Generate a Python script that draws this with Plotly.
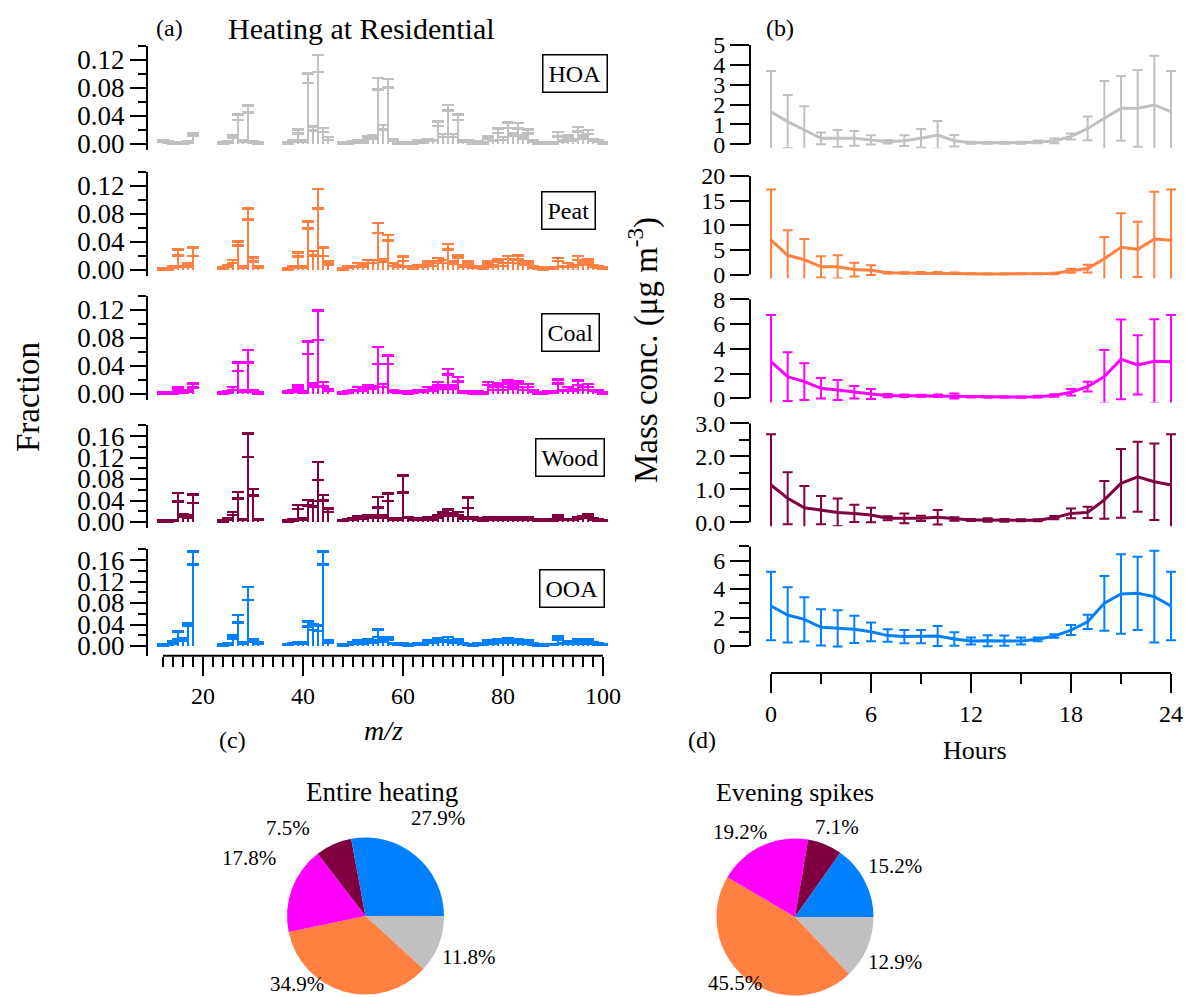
import plotly.graph_objects as go

W, H = 1198, 997
FONT = "Liberation Serif"

# ---------------- data ----------------
FACTORS = ["HOA", "Peat", "Coal", "Wood", "OOA"]
COLORS = ["#c0c0c0", "#ff8040", "#ff00ff", "#800040", "#0080ff"]

MZ = ([12, 13, 14, 15, 16, 17, 18] + [24, 25, 26, 27, 28, 29, 30, 31]
      + [37, 38, 39, 40, 41, 42, 43, 44, 45] + list(range(48, 101)))

HOA_FRAC = [0.004, 0.003, 0.001, 0.002, 0.001, 0.003, 0.014,
            0.001, 0.003, 0.011, 0.038, 0.004, 0.050, 0.003, 0.002,
            0.002, 0.004, 0.018, 0.004, 0.094, 0.022, 0.115, 0.020, 0.008,
            0.001, 0.002, 0.003, 0.005, 0.003, 0.009, 0.010, 0.086, 0.024, 0.087,
            0.006, 0.002, 0.002, 0.001, 0.002, 0.004, 0.003, 0.006, 0.005, 0.029,
            0.012, 0.052, 0.012, 0.038, 0.004, 0.004, 0.002, 0.003, 0.002, 0.009,
            0.005, 0.019, 0.008, 0.027, 0.014, 0.026, 0.010, 0.018, 0.004, 0.002,
            0.001, 0.002, 0.002, 0.014, 0.004, 0.010, 0.006, 0.021, 0.010, 0.017,
            0.006, 0.004, 0.002]
HOA_ERR = [0.001, 0.001, 0.001, 0.001, 0.001, 0.001, 0.002,
           0.001, 0.001, 0.002, 0.004, 0.001, 0.005, 0.001, 0.001,
           0.001, 0.001, 0.003, 0.001, 0.007, 0.003, 0.012, 0.003, 0.002,
           0.001, 0.001, 0.001, 0.001, 0.001, 0.002, 0.002, 0.008, 0.003, 0.006,
           0.001, 0.001, 0.001, 0.001, 0.001, 0.001, 0.001, 0.001, 0.001, 0.003,
           0.002, 0.004, 0.002, 0.004, 0.001, 0.001, 0.001, 0.001, 0.001, 0.002,
           0.001, 0.003, 0.002, 0.004, 0.002, 0.004, 0.002, 0.003, 0.001, 0.001,
           0.001, 0.001, 0.001, 0.003, 0.001, 0.002, 0.001, 0.003, 0.002, 0.003,
           0.001, 0.001, 0.001]

PEAT_FRAC = [0.002, 0.002, 0.004, 0.025, 0.005, 0.007, 0.026,
             0.003, 0.006, 0.012, 0.038, 0.004, 0.080, 0.015, 0.004,
             0.002, 0.004, 0.022, 0.004, 0.064, 0.024, 0.102, 0.026, 0.010,
             0.002, 0.004, 0.005, 0.008, 0.006, 0.012, 0.012, 0.060, 0.014, 0.046,
             0.008, 0.006, 0.016, 0.005, 0.003, 0.006, 0.005, 0.010, 0.008, 0.015,
             0.012, 0.033, 0.011, 0.019, 0.006, 0.010, 0.004, 0.004, 0.003, 0.010,
             0.006, 0.014, 0.008, 0.018, 0.012, 0.018, 0.009, 0.011, 0.004, 0.003,
             0.002, 0.003, 0.003, 0.015, 0.005, 0.008, 0.006, 0.017, 0.009, 0.013,
             0.006, 0.004, 0.003]
PEAT_ERR = [0.001, 0.001, 0.001, 0.004, 0.001, 0.002, 0.006,
            0.001, 0.001, 0.002, 0.003, 0.001, 0.008, 0.003, 0.001,
            0.001, 0.001, 0.003, 0.001, 0.005, 0.003, 0.014, 0.006, 0.002,
            0.001, 0.001, 0.001, 0.002, 0.001, 0.002, 0.002, 0.007, 0.002, 0.004,
            0.002, 0.001, 0.003, 0.001, 0.001, 0.001, 0.001, 0.002, 0.002, 0.002,
            0.002, 0.004, 0.002, 0.002, 0.001, 0.002, 0.001, 0.001, 0.001, 0.002,
            0.001, 0.002, 0.002, 0.002, 0.002, 0.003, 0.002, 0.002, 0.001, 0.001,
            0.001, 0.001, 0.001, 0.002, 0.001, 0.002, 0.001, 0.003, 0.002, 0.002,
            0.001, 0.001, 0.001]

COAL_FRAC = [0.002, 0.002, 0.002, 0.007, 0.003, 0.004, 0.012,
             0.001, 0.003, 0.008, 0.039, 0.004, 0.054, 0.004, 0.002,
             0.003, 0.004, 0.010, 0.003, 0.066, 0.013, 0.098, 0.014, 0.006,
             0.002, 0.003, 0.005, 0.008, 0.006, 0.010, 0.009, 0.055, 0.012, 0.049,
             0.004, 0.003, 0.003, 0.002, 0.003, 0.005, 0.004, 0.008, 0.007, 0.015,
             0.010, 0.032, 0.010, 0.021, 0.003, 0.003, 0.002, 0.003, 0.002, 0.015,
             0.008, 0.014, 0.008, 0.017, 0.010, 0.016, 0.008, 0.012, 0.004, 0.002,
             0.002, 0.003, 0.003, 0.018, 0.005, 0.008, 0.006, 0.016, 0.008, 0.012,
             0.005, 0.004, 0.002]
COAL_ERR = [0.001, 0.001, 0.001, 0.002, 0.001, 0.001, 0.003,
            0.001, 0.001, 0.002, 0.006, 0.001, 0.009, 0.001, 0.001,
            0.001, 0.001, 0.002, 0.001, 0.009, 0.002, 0.021, 0.003, 0.001,
            0.001, 0.001, 0.001, 0.002, 0.001, 0.002, 0.002, 0.012, 0.002, 0.006,
            0.001, 0.001, 0.001, 0.001, 0.001, 0.001, 0.001, 0.002, 0.002, 0.002,
            0.002, 0.004, 0.002, 0.003, 0.001, 0.001, 0.001, 0.001, 0.001, 0.002,
            0.002, 0.002, 0.002, 0.002, 0.002, 0.002, 0.002, 0.002, 0.001, 0.001,
            0.001, 0.001, 0.001, 0.003, 0.001, 0.002, 0.001, 0.003, 0.002, 0.002,
            0.001, 0.001, 0.001]

WOOD_FRAC = [0.002, 0.002, 0.003, 0.046, 0.012, 0.010, 0.043,
             0.002, 0.006, 0.016, 0.050, 0.005, 0.143, 0.055, 0.005,
             0.002, 0.004, 0.028, 0.006, 0.036, 0.034, 0.095, 0.045, 0.022,
             0.003, 0.005, 0.006, 0.009, 0.007, 0.010, 0.010, 0.037, 0.010, 0.046,
             0.006, 0.006, 0.071, 0.008, 0.005, 0.006, 0.005, 0.007, 0.006, 0.010,
             0.015, 0.020, 0.014, 0.016, 0.007, 0.036, 0.007, 0.006, 0.004, 0.008,
             0.005, 0.007, 0.005, 0.008, 0.006, 0.007, 0.006, 0.007, 0.005, 0.004,
             0.003, 0.004, 0.004, 0.010, 0.005, 0.005, 0.005, 0.007, 0.009, 0.012,
             0.006, 0.004, 0.003]
WOOD_ERR = [0.001, 0.001, 0.001, 0.008, 0.002, 0.002, 0.008,
            0.001, 0.001, 0.003, 0.006, 0.001, 0.022, 0.006, 0.001,
            0.001, 0.001, 0.004, 0.001, 0.005, 0.005, 0.017, 0.005, 0.003,
            0.001, 0.001, 0.001, 0.002, 0.001, 0.002, 0.002, 0.010, 0.002, 0.007,
            0.001, 0.001, 0.016, 0.001, 0.001, 0.001, 0.001, 0.001, 0.001, 0.002,
            0.003, 0.003, 0.002, 0.003, 0.001, 0.010, 0.001, 0.001, 0.001, 0.001,
            0.001, 0.001, 0.001, 0.001, 0.001, 0.001, 0.001, 0.001, 0.001, 0.001,
            0.001, 0.001, 0.001, 0.002, 0.001, 0.001, 0.001, 0.001, 0.002, 0.002,
            0.001, 0.001, 0.001]

OOA_FRAC = [0.002, 0.003, 0.006, 0.020, 0.012, 0.040, 0.164,
            0.002, 0.004, 0.017, 0.051, 0.006, 0.098, 0.010, 0.006,
            0.003, 0.005, 0.006, 0.006, 0.041, 0.035, 0.033, 0.164, 0.008,
            0.002, 0.003, 0.006, 0.008, 0.006, 0.010, 0.008, 0.024, 0.010, 0.014,
            0.005, 0.003, 0.004, 0.002, 0.003, 0.005, 0.004, 0.008, 0.008, 0.012,
            0.009, 0.014, 0.008, 0.010, 0.005, 0.003, 0.002, 0.004, 0.003, 0.009,
            0.006, 0.010, 0.008, 0.012, 0.008, 0.010, 0.006, 0.008, 0.004, 0.002,
            0.002, 0.003, 0.003, 0.015, 0.005, 0.007, 0.006, 0.011, 0.007, 0.010,
            0.006, 0.004, 0.003]
OOA_ERR = [0.001, 0.001, 0.002, 0.007, 0.002, 0.002, 0.012,
           0.001, 0.001, 0.003, 0.007, 0.001, 0.012, 0.002, 0.001,
           0.001, 0.001, 0.001, 0.001, 0.005, 0.005, 0.005, 0.012, 0.002,
           0.001, 0.001, 0.001, 0.002, 0.001, 0.002, 0.002, 0.007, 0.002, 0.002,
           0.001, 0.001, 0.001, 0.001, 0.001, 0.001, 0.001, 0.002, 0.002, 0.002,
           0.002, 0.003, 0.002, 0.002, 0.001, 0.001, 0.001, 0.001, 0.001, 0.002,
           0.001, 0.002, 0.002, 0.002, 0.002, 0.002, 0.001, 0.002, 0.001, 0.001,
           0.001, 0.001, 0.001, 0.003, 0.001, 0.002, 0.001, 0.002, 0.002, 0.002,
           0.001, 0.001, 0.001]

HOURS = list(range(0, 25))
HOA_DIURNAL = [1.64, 1.14, 0.72, 0.30, 0.30, 0.30, 0.22, 0.13, 0.18, 0.30, 0.47, 0.18, 0.08,
               0.07, 0.07, 0.08, 0.12, 0.17, 0.39, 0.80, 1.31, 1.81, 1.81, 1.98, 1.64]
HOA_DIURNAL_ERR = [2.05, 1.34, 1.20, 0.30, 0.42, 0.37, 0.23, 0.09, 0.27, 0.47, 0.70, 0.29, 0.05,
                   0.04, 0.04, 0.05, 0.07, 0.12, 0.15, 0.60, 1.88, 1.63, 1.93, 2.48, 2.05]
PEAT_DIURNAL = [6.96, 3.9, 3.0, 1.55, 1.55, 1.0, 0.88, 0.35, 0.30, 0.30, 0.30, 0.25, 0.15,
                0.12, 0.12, 0.12, 0.12, 0.20, 0.75, 1.2, 3.2, 5.5, 5.1, 7.2, 6.96]
PEAT_DIURNAL_ERR = [10.3, 5.1, 4.2, 2.15, 2.35, 1.4, 1.0, 0.15, 0.15, 0.2, 0.2, 0.15, 0.1,
                    0.08, 0.08, 0.08, 0.08, 0.15, 0.4, 0.8, 4.4, 6.9, 5.6, 9.6, 10.3]
COAL_DIURNAL = [2.96, 1.75, 1.35, 0.81, 0.67, 0.49, 0.35, 0.22, 0.20, 0.20, 0.20, 0.19, 0.12,
                0.10, 0.10, 0.10, 0.13, 0.22, 0.49, 0.94, 1.75, 3.15, 2.70, 3.00, 2.96]
COAL_DIURNAL_ERR = [3.78, 1.97, 1.48, 0.83, 0.80, 0.51, 0.40, 0.13, 0.10, 0.08, 0.10, 0.20, 0.06,
                    0.05, 0.05, 0.05, 0.07, 0.10, 0.27, 0.40, 2.15, 3.23, 2.40, 3.40, 3.78]
WOOD_DIURNAL = [1.13, 0.73, 0.44, 0.37, 0.30, 0.27, 0.22, 0.12, 0.12, 0.12, 0.15, 0.10, 0.07,
                0.07, 0.06, 0.06, 0.06, 0.14, 0.27, 0.30, 0.68, 1.18, 1.38, 1.23, 1.13]
WOOD_DIURNAL_ERR = [1.54, 0.79, 0.66, 0.43, 0.42, 0.26, 0.22, 0.06, 0.15, 0.08, 0.22, 0.05, 0.03,
                    0.05, 0.04, 0.03, 0.03, 0.05, 0.15, 0.17, 0.57, 1.04, 1.06, 1.16, 1.54]
OOA_DIURNAL = [2.81, 2.18, 1.87, 1.31, 1.24, 1.17, 1.00, 0.73, 0.66, 0.66, 0.70, 0.49, 0.35,
               0.37, 0.37, 0.35, 0.47, 0.70, 1.12, 1.70, 3.00, 3.65, 3.70, 3.47, 2.81]
OOA_DIURNAL_ERR = [2.41, 1.94, 1.55, 1.27, 1.27, 0.96, 0.66, 0.44, 0.46, 0.46, 0.70, 0.47, 0.24,
                   0.38, 0.36, 0.25, 0.13, 0.12, 0.35, 0.50, 1.92, 2.79, 2.58, 3.23, 2.41]

# pie slices, clockwise from 3 o'clock
PIE_LABELS = ["HOA", "Peat", "Coal", "Wood", "OOA"]
PIE_COLORS = ["#c0c0c0", "#ff8040", "#ff00ff", "#800040", "#0080ff"]
ENTIRE_HEATING = [11.8, 34.9, 17.8, 7.5, 27.9]
EVENING_SPIKES = [12.9, 45.5, 19.2, 7.1, 15.2]

SPECTRA = [(HOA_FRAC, HOA_ERR), (PEAT_FRAC, PEAT_ERR), (COAL_FRAC, COAL_ERR),
           (WOOD_FRAC, WOOD_ERR), (OOA_FRAC, OOA_ERR)]
DIURNALS = [(HOA_DIURNAL, HOA_DIURNAL_ERR), (PEAT_DIURNAL, PEAT_DIURNAL_ERR),
            (COAL_DIURNAL, COAL_DIURNAL_ERR), (WOOD_DIURNAL, WOOD_DIURNAL_ERR),
            (OOA_DIURNAL, OOA_DIURNAL_ERR)]

# ---------------- layout geometry (pixels) ----------------
def fx(p):
    return p / W


def fy(p):
    return 1 - p / H


def ydomain(zero_px, scale, lo, hi):
    return [fy(zero_px - lo * scale), fy(zero_px - hi * scale)]


LEFT_Y = [
    (144, 700, -0.0086, 0.14, [0, 0.04, 0.08, 0.12]),
    (270, 700, -0.0086, 0.14, [0, 0.04, 0.08, 0.12]),
    (394, 700, -0.0086, 0.14, [0, 0.04, 0.08, 0.12]),
    (522, 537, -0.0112, 0.18, [0, 0.04, 0.08, 0.12, 0.16]),
    (646, 537, -0.018, 0.18, [0, 0.04, 0.08, 0.12, 0.16]),
]
RIGHT_Y = [
    (144.3, 19.86, -0.2, 5.0, [0, 1, 2, 3, 4, 5], [], None, 5),
    (274.5, 4.93, -0.8, 20.0, [0, 5, 10, 15, 20], [], None, 20),
    (398.3, 12.37, -0.33, 8.0, [0, 2, 4, 6, 8], [], None, 8),
    (522.3, 33.0, -0.12, 3.0, [0, 1, 2, 3], [0.5, 1.5, 2.5], ".1f", 3),
    (646, 14.23, -1.9, 7.0, [0, 2, 4, 6], [1, 3, 5, 7], None, 7),
]
LEFT_X_DOMAIN = [fx(148), fx(608)]
RIGHT_X_DOMAIN = [fx(750), fx(1177)]
LEFT_X_RANGE = [9, 101]
RIGHT_X_RANGE = [-1.26, 24.36]

fig = go.Figure()
layout = {}
shapes = []
annotations = []
tickfont = dict(family=FONT, size=24, color="black")
left_tickfont = dict(family=FONT, size=27, color="black")

for i, name in enumerate(FACTORS):
    n = i + 1
    color = COLORS[i]
    vals, errs = SPECTRA[i]
    fig.add_trace(go.Bar(
        x=MZ, y=vals, width=0.4, marker=dict(color=color, line=dict(width=0)),
        error_y=dict(type="data", array=errs, visible=True, color=color,
                     thickness=2.5, width=6),
        xaxis=f"x{n}", yaxis=f"y{n}", showlegend=False, name=name))

    zero, sc, lo, hi, tv = LEFT_Y[i]
    minor_vals = [round(v * 0.02, 2) for v in range(0, 10)
                  if round(v * 0.02, 2) not in tv and v * 0.02 <= hi]
    layout[f"yaxis{n}"] = dict(
        domain=ydomain(zero, sc, lo, hi), range=[lo, hi], anchor=f"x{n}",
        tickmode="array", tickvals=tv, tickformat=".2f", ticks="outside",
        ticklen=16, tickwidth=2, tickcolor="black", showline=True, linewidth=2,
        linecolor="black", showgrid=False, zeroline=False, tickfont=left_tickfont,
        minor=dict(tickmode="array", tickvals=minor_vals, ticks="outside",
                   ticklen=8, tickwidth=2, tickcolor="black", showgrid=False))
    xa = dict(domain=LEFT_X_DOMAIN, range=LEFT_X_RANGE, anchor=f"y{n}",
              showgrid=False, zeroline=False, showline=False)
    if n == 5:
        xa.update(tickmode="array", tickvals=[20, 40, 60, 80, 100], ticks="outside",
                  ticklen=19, tickwidth=2, tickcolor="black", tickfont=tickfont,
                  minor=dict(tickmode="array",
                             tickvals=[v for v in range(12, 101, 2) if v % 20 != 0],
                             ticks="outside", ticklen=10, tickwidth=2,
                             tickcolor="black", showgrid=False))
    else:
        xa.update(showticklabels=False, ticks="")
    layout[f"xaxis{n}"] = xa

    # right panels
    m = i + 6
    dv, de = DIURNALS[i]
    fig.add_trace(go.Scatter(
        x=HOURS, y=dv, mode="lines", line=dict(color=color, width=3),
        error_y=dict(type="data", array=de, visible=True, color=color,
                     thickness=2, width=5),
        xaxis=f"x{m}", yaxis=f"y{m}", showlegend=False, name=name))
    zero, sc, lo, hi, tv, mv, fmt, top = RIGHT_Y[i]
    ya = dict(domain=ydomain(zero, sc, lo, hi), range=[lo, hi], anchor=f"x{m}",
              tickmode="array", tickvals=tv, ticks="outside", ticklen=19,
              tickwidth=2, tickcolor="black", showline=False, showgrid=False,
              zeroline=False, tickfont=tickfont)
    if fmt:
        ya["tickformat"] = fmt
    if mv:
        ya["minor"] = dict(tickmode="array", tickvals=mv, ticks="outside",
                           ticklen=10, tickwidth=2, tickcolor="black", showgrid=False)
    layout[f"yaxis{m}"] = ya
    shapes.append(dict(type="line", xref=f"x{m} domain", yref=f"y{m}",
                       x0=0, x1=0, y0=0, y1=top, line=dict(color="black", width=2)))
    xb = dict(domain=RIGHT_X_DOMAIN, range=RIGHT_X_RANGE, anchor=f"y{m}",
              showgrid=False, zeroline=False, showline=False)
    if m == 10:
        xb.update(tickmode="array", tickvals=[0, 6, 12, 18, 24], ticks="outside",
                  ticklen=19, tickwidth=2, tickcolor="black", tickfont=tickfont,
                  minor=dict(tickmode="array", tickvals=[3, 9, 15, 21], ticks="outside",
                             ticklen=10, tickwidth=2, tickcolor="black", showgrid=False))
    else:
        xb.update(showticklabels=False, ticks="")
    layout[f"xaxis{m}"] = xb

shapes.append(dict(type="line", xref="x5", yref="y5 domain", x0=12, x1=100, y0=0, y1=0,
                   line=dict(color="black", width=2)))
shapes.append(dict(type="line", xref="x10", yref="y10 domain", x0=0, x1=24, y0=0, y1=0,
                   line=dict(color="black", width=2)))

BOX_POS = [(574.5, 74), (568, 210), (570.5, 332), (569.5, 457.5), (571.5, 588)]
for name, (bx, by) in zip(FACTORS, BOX_POS):
    annotations.append(dict(text=name, x=fx(bx), y=fy(by), xref="paper", yref="paper",
                            showarrow=False, xanchor="center", yanchor="middle",
                            font=dict(family=FONT, size=24, color="black"),
                            bordercolor="black", borderwidth=1.5, borderpad=5,
                            bgcolor="white"))


def label(text, x, y, size=24, angle=0, xanchor="center"):
    annotations.append(dict(text=text, x=fx(x), y=fy(y), xref="paper", yref="paper",
                            showarrow=False, xanchor=xanchor, yanchor="middle",
                            textangle=angle,
                            font=dict(family=FONT, size=size, color="black")))


label("(a)", 170, 28, 24)
label("Heating at Residential", 361, 28, 30)
label("(b)", 780, 28, 24)
label("Fraction", 28, 397, 33, -90)
label("Mass conc. (μg m<sup>-3</sup>)", 643, 350, 33, -90)
label("<i>m/z</i>", 383, 730, 28)
label("Hours", 975, 750, 26)
label("(c)", 232, 740, 24)
label("(d)", 702, 740, 24)
label("Entire heating", 382, 792, 27)
label("Evening spikes", 795, 792, 26)

# pies
PIE_R = 78.5
PIES = [
    (ENTIRE_HEATING, 365.5, 916,
     [(103, 41), (-69, 68), (-117, -58), (-78, -88), (72, -98)]),
    (EVENING_SPIKES, 795, 917,
     [(100, 45), (-60, 66), (-55, -85), (42, -90), (100, -51)]),
]
for vals, cx, cy, offs in PIES:
    fig.add_trace(go.Pie(
        labels=PIE_LABELS, values=vals, sort=False, direction="clockwise",
        rotation=90, marker=dict(colors=PIE_COLORS, line=dict(width=0)),
        textinfo="none",
        domain=dict(x=[fx(cx - PIE_R), fx(cx + PIE_R)], y=[fy(cy + PIE_R), fy(cy - PIE_R)]),
        showlegend=False, hoverinfo="label+value"))
    for v, (dx, dy) in zip(vals, offs):
        label(f"{v:.1f}%", cx + dx, cy + dy, 21)

fig.update_layout(
    width=W, height=H, margin=dict(l=0, r=0, t=0, b=0, autoexpand=False),
    paper_bgcolor="white", plot_bgcolor="rgba(0,0,0,0)",
    font=dict(family=FONT, color="black"), showlegend=False, bargap=0,
    shapes=shapes, annotations=annotations, **layout)

fig.write_html("out.html", config={"displayModeBar": False},
               post_script="document.body.style.margin='0px';"
                           "document.body.style.overflow='hidden';")
